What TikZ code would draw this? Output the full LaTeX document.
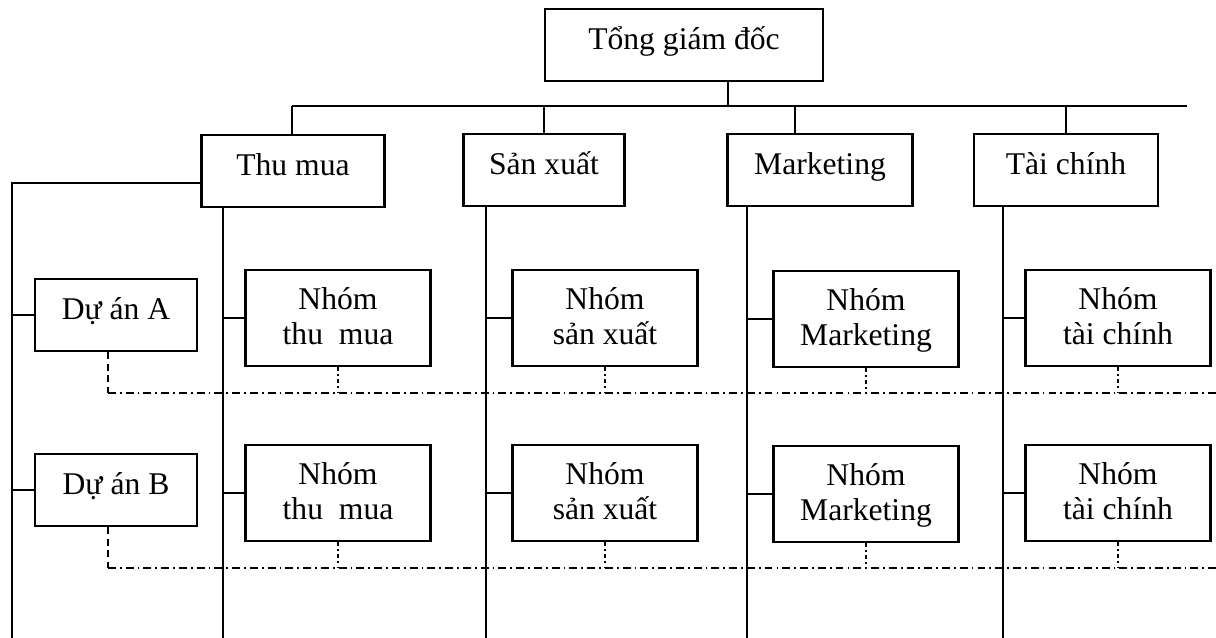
\documentclass[tikz,border=0pt]{standalone}
\usepackage{fontspec}
\setmainfont{Liberation Serif}
\usetikzlibrary{calc}

\begin{document}
\begin{tikzpicture}[
    x=0.02cm, y=-0.02cm,
    font=\fontsize{18}{20}\selectfont,
    unit/.style={draw, line width=1.2pt, minimum height=1.45cm, inner sep=2pt, text height=0.7em, text depth=0.22em},
    team/.style={draw, line width=1.2pt, align=center, minimum width=3.7cm, minimum height=1.92cm, inner sep=2pt, text depth=0.22em},
    link/.style={line width=1pt},
    projline/.style={line width=1pt, dash pattern=on 4pt off 2.5pt},
    crossline/.style={line width=1pt, dash pattern=on 4.5pt off 2.3pt on 1pt off 2.3pt},
    teamline/.style={line width=1pt, dash pattern=on 2pt off 2pt on 1pt off 2pt}
]
    \useasboundingbox (0,0) rectangle (1216,638);

    % Top
    \node[unit, minimum width=5.56cm] (tgd) at (684,45) {Tổng giám đốc};

    % Departments
    \node[unit, minimum width=3.66cm] (thumua) at (293,171) {Thu mua};
    \node[unit, minimum width=3.22cm] (sanxuat) at (544,170) {Sản xuất};
    \node[unit, minimum width=3.70cm] (marketing) at (820,170) {Marketing};
    \node[unit, minimum width=3.68cm] (taichinh) at (1066,170) {Tài chính};

    % Projects and teams
    \foreach \r/\y in {A/318, B/493} {
        \node[unit, minimum width=3.24cm] (duan\r) at (116,\y-3) {Dự án \r};
        \node[team] (nhomTM\r) at (338,\y) {Nhóm\\thu\ \ mua};
        \node[team] (nhomSX\r) at (605,\y) {Nhóm\\sản xuất};
        \node[team] (nhomMK\r) at (866,\y+1) {Nhóm\\Marketing};
        \node[team] (nhomTC\r) at (1118,\y) {Nhóm\\tài chính};
    }

    % Bus under the top box
    \coordinate (busL) at (292,106);
    \coordinate (busR) at (1187,106);
    \coordinate (bus) at (728,106);
    \draw[link] (tgd.south -| bus) -- (bus);
    \draw[link] (busL) -- (busR);
    \draw[link] (busL) -- (busL |- thumua.north);
    \draw[link] (sanxuat.north) -- (sanxuat.north |- bus);
    \draw[link] ([xshift=-0.5cm]marketing.north) -- ([xshift=-0.5cm]marketing.north |- bus);
    \draw[link] (taichinh.north) -- (taichinh.north |- bus);

    % Long verticals
    \coordinate (vL) at (12,638);
    \coordinate (vTM) at (223,638);
    \coordinate (vSX) at (486,638);
    \coordinate (vMK) at (747,638);
    \coordinate (vTC) at (1003,638);
    \draw[link] ([yshift=-0.24cm]thumua.west) -| (vL);
    \draw[link] (thumua.south -| vTM) -- (vTM);
    \draw[link] (sanxuat.south -| vSX) -- (vSX);
    \draw[link] (marketing.south -| vMK) -- (vMK);
    \draw[link] (taichinh.south -| vTC) -- (vTC);

    % Branches
    \foreach \r in {A, B} {
        \draw[link] (duan\r.west) -- (duan\r.west -| vL);
        \foreach \n/\v in {TM/vTM, SX/vSX, MK/vMK, TC/vTC}
            \draw[link] (nhom\n\r.west) -- (nhom\n\r.west -| \v);
    }

    % Project cross lines
    \coordinate (hA) at (1216,393);
    \coordinate (hB) at (1216,568);
    \foreach \r in {A, B} {
        \draw[projline] ([xshift=-0.16cm]duan\r.south) -- ([xshift=-0.16cm]duan\r.south |- h\r);
        \draw[crossline] ([xshift=-0.16cm]duan\r.south |- h\r) -- (h\r);
        \foreach \n in {TM, SX, MK, TC}
            \draw[teamline] (nhom\n\r.south) -- (nhom\n\r.south |- h\r);
    }
\end{tikzpicture}
\end{document}
